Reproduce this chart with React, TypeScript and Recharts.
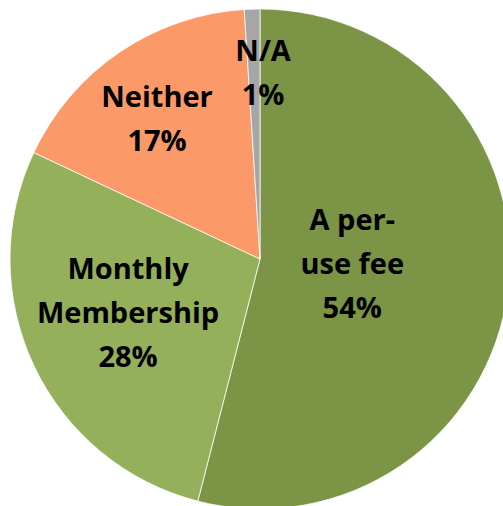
import { Pie, PieChart, Cell } from 'recharts'

const categories = ['A per-use fee', 'Monthly Membership', 'Neither', 'N/A']
const shares = [54, 28, 17, 1]
const labelLines = [['A per-', 'use fee'], ['Monthly', 'Membership'], ['Neither'], ['N/A']]
const colors = ['#7B9446', '#94B05A', '#FB9A68', '#A6A6A6']

const labelRadius = [0.38, 0.57, 0.69, 0.75]
// small pixel nudges on top of that so the labels land where Excel put them
const labelNudge = [[-2, -9], [-3, -9], [-6, 1], [9, -1]]

const data = categories.map((name, i) => ({ name, value: shares[i] }))

const RADIAN = Math.PI / 180

function renderLabel(props: any) {
    const { cx, cy, midAngle, outerRadius, index, value } = props
    const r = outerRadius * labelRadius[index]
    const x = cx + r * Math.cos(-midAngle * RADIAN) + labelNudge[index][0]
    const y = cy + r * Math.sin(-midAngle * RADIAN) + labelNudge[index][1]
    const lines = [...labelLines[index], `${value}%`]
    const lineHeight = 44
    const top = y - ((lines.length - 1) * lineHeight) / 2
    return (
        <text
            key={`label-${index}`}
            x={x}
            y={top}
            textAnchor="middle"
            dominantBaseline="central"
            fill="#000"
            fontSize={29}
            fontWeight="bold"
            fontFamily="'Open Sans', sans-serif"
        >
            {lines.map((line, i) => (
                <tspan key={i} x={x} dy={i === 0 ? 0 : lineHeight}>
                    {line}
                </tspan>
            ))}
        </text>
    )
}

export default function App() {
    return (
        <div style={{ position: 'absolute', left: 0, top: 0, width: 503, height: 506, background: '#fff' }}>
            <PieChart width={503} height={506} margin={{ top: 0, right: 0, bottom: 0, left: 0 }}>
                <Pie
                    data={data}
                    dataKey="value"
                    cx={260}
                    cy={259}
                    outerRadius={250}
                    startAngle={90}
                    endAngle={-270}
                    stroke="#fff"
                    strokeWidth={0.75}
                    label={renderLabel}
                    labelLine={false}
                    isAnimationActive={false}
                >
                    {data.map((d, i) => (
                        <Cell key={d.name} fill={colors[i]} />
                    ))}
                </Pie>
            </PieChart>
        </div>
    )
}
